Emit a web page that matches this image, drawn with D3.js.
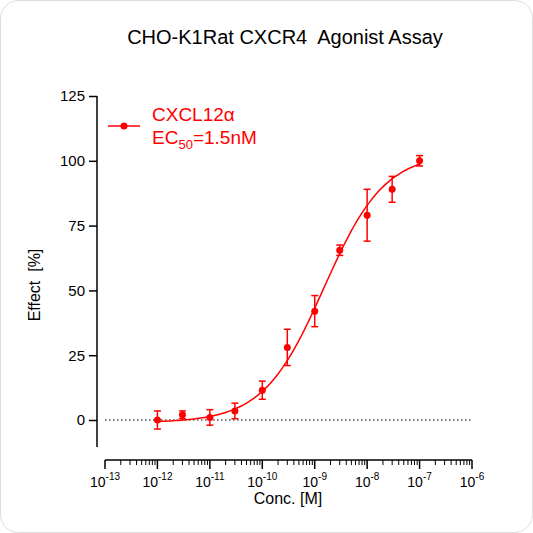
<!DOCTYPE html><html><head><meta charset="utf-8"><script src="https://cdn.jsdelivr.net/npm/d3@7"></script>
<style>body{margin:0;background:#fff}text{white-space:pre}</style></head><body><svg id="c" width="533" height="533"></svg>
<script>
const conc=[1e-12,3e-12,1e-11,3e-11,1e-10,3e-10,1e-9,3e-9,1e-8,3e-8,1e-7];
const effect=[0,2,1,3.5,11.5,28,42,65.5,79,89,100];
const err=[3.5,1.5,3,3,3.5,7,6,2,10,5,2];
const yTicks=[0,25,50,75,100,125];
const xExps=[-13,-12,-11,-10,-9,-8,-7,-6];
const fit={bottom:-1,top:103,ec50:1.5e-9,hill:0.75};
const red="#f00";
const svg=d3.select("#c").style("font-family","Arial, Liberation Sans, sans-serif");
svg.append("rect").attr("x",0.5).attr("y",0.5).attr("width",532).attr("height",532).attr("rx",18).attr("fill","#fff").attr("stroke","#ddd");
const x=d3.scaleLog().domain([1e-13,1e-6]).range([105,472]);
const y=d3.scaleLinear().domain([0,125]).range([420,96]);
svg.append("text").attr("x",285).attr("y",44).attr("text-anchor","middle").attr("font-size",20).text("CHO-K1Rat CXCR4  Agonist Assay");
const ya=svg.append("g").attr("transform","translate(97,0)").call(d3.axisLeft(y).tickValues(yTicks).tickSize(8).tickPadding(4));
ya.selectAll("text").attr("font-size",15).attr("fill","#000");ya.selectAll("line,path").attr("stroke","#000").attr("stroke-width",1.5);
ya.select("path").attr("d","M0,"+y(125)+"V447");
const xa=svg.append("g").attr("transform","translate(0,460)");
xa.append("line").attr("x1",105).attr("x2",472).attr("stroke","#000").attr("stroke-width",1.5);
const minors=[];xExps.slice(0,-1).forEach(e=>{for(let k=2;k<10;k++)minors.push(k*Math.pow(10,e));});
xa.selectAll(".mn").data(minors).join("line").attr("x1",d=>x(d)).attr("x2",d=>x(d)).attr("y2",5).attr("stroke","#000");
xa.selectAll(".mj").data(xExps).join("line").attr("x1",d=>x(Math.pow(10,d))).attr("x2",d=>x(Math.pow(10,d))).attr("y2",9).attr("stroke","#000").attr("stroke-width",1.5);
const tl=xa.selectAll(".tl").data(xExps).join("text").attr("x",d=>x(Math.pow(10,d))).attr("y",27).attr("text-anchor","middle").attr("font-size",14);
tl.append("tspan").text("10");tl.append("tspan").attr("dy",-7).attr("font-size",10).text(d=>"-"+(-d));
svg.append("text").attr("x",288).attr("y",504).attr("text-anchor","middle").attr("font-size",16).text("Conc. [M]");
svg.append("text").attr("transform","translate(40,285) rotate(-90)").attr("text-anchor","middle").attr("font-size",16).text("Effect  [%]");
svg.append("line").attr("x1",105).attr("x2",472).attr("y1",y(0)).attr("y2",y(0)).attr("stroke","#000").attr("stroke-dasharray","1.5,2.5");
const f=c=>fit.bottom+(fit.top-fit.bottom)/(1+Math.pow(fit.ec50/c,fit.hill));
const cx=d3.range(-12,-7+0.001,0.05).map(e=>Math.pow(10,e));
svg.append("path").attr("d",d3.line().x(c=>x(c)).y(c=>y(f(c)))(cx)).attr("fill","none").attr("stroke",red).attr("stroke-width",1.5);
const g=svg.selectAll(".pt").data(conc.map((c,i)=>({c,v:effect[i],e:err[i]}))).join("g");
g.append("line").attr("x1",d=>x(d.c)).attr("x2",d=>x(d.c)).attr("y1",d=>y(d.v-d.e)).attr("y2",d=>y(d.v+d.e)).attr("stroke",red).attr("stroke-width",1.5);
["-","+"].forEach(s=>g.append("line").attr("x1",d=>x(d.c)-3.5).attr("x2",d=>x(d.c)+3.5).attr("y1",d=>y(s=="+"?d.v+d.e:d.v-d.e)).attr("y2",d=>y(s=="+"?d.v+d.e:d.v-d.e)).attr("stroke",red).attr("stroke-width",1.5));
g.append("circle").attr("cx",d=>x(d.c)).attr("cy",d=>y(d.v)).attr("r",3.5).attr("fill",red);
svg.append("line").attr("x1",108).attr("x2",140).attr("y1",126).attr("y2",126).attr("stroke",red).attr("stroke-width",1.5);
svg.append("circle").attr("cx",124).attr("cy",126).attr("r",3.5).attr("fill",red);
svg.append("text").attr("x",152).attr("y",121).attr("font-size",19).attr("fill",red).text("CXCL12α");
const t2=svg.append("text").attr("x",152).attr("y",144).attr("font-size",19).attr("fill",red);
t2.append("tspan").text("EC");t2.append("tspan").attr("dy",5).attr("font-size",13).text("50");t2.append("tspan").attr("dy",-5).text("=1.5nM");
</script></body></html>
